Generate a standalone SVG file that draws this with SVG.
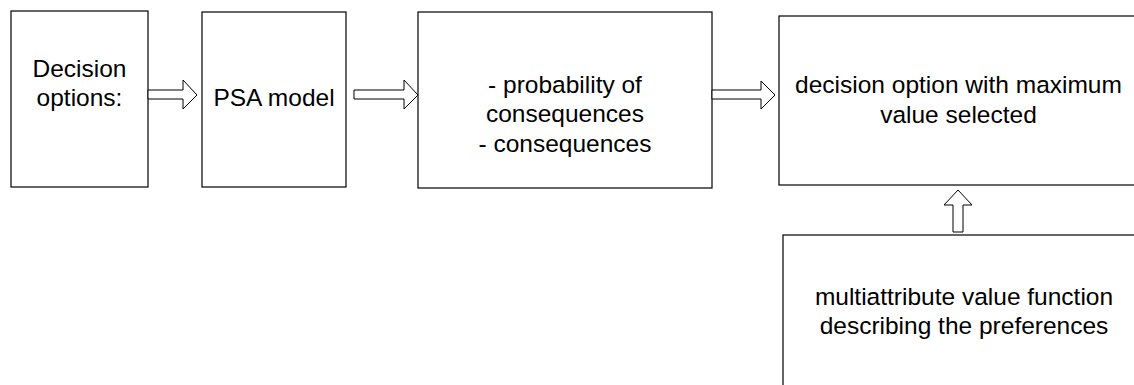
<svg xmlns="http://www.w3.org/2000/svg" width="1134" height="385" viewBox="0 0 1134 385">
  <style>
    .box { fill: #ffffff; stroke: #000000; stroke-width: 1.2; }
    .arrow { fill: #ffffff; stroke: #000000; stroke-width: 1; stroke-linejoin: miter; }
    .label { font-family: "Liberation Sans", Arial, sans-serif; font-size: 24.5px; fill: #000000; text-anchor: middle; }
  </style>
  <rect width="1134" height="385" fill="#ffffff"/>

  <g id="decision-options">
    <rect class="box" x="11" y="11" width="137" height="176"/>
    <text class="label" x="79.5" y="77">Decision</text>
    <text class="label" x="79.5" y="106">options:</text>
  </g>

  <g id="psa-model">
    <rect class="box" x="202" y="12" width="144" height="175"/>
    <text class="label" x="274" y="106">PSA model</text>
  </g>

  <g id="consequences">
    <rect class="box" x="418" y="12" width="294" height="176"/>
    <text class="label" x="565" y="93">- probability of</text>
    <text class="label" x="565" y="122">consequences</text>
    <text class="label" x="565" y="152">- consequences</text>
  </g>

  <g id="selected-option">
    <rect class="box" x="779" y="16" width="370" height="169"/>
    <text class="label" x="958.5" y="93">decision option with maximum</text>
    <text class="label" x="958.5" y="123">value selected</text>
  </g>

  <g id="value-function">
    <rect class="box" x="783" y="235" width="370" height="170"/>
    <text class="label" x="964" y="305">multiattribute value function</text>
    <text class="label" x="964" y="334">describing the preferences</text>
  </g>

  <g id="connectors">
    <!-- hollow block arrows between the stages -->
    <polygon class="arrow" points="148,90 183,90 183,80 197,95 183,109 183,99 148,99"/>
    <polygon class="arrow" points="354,90 404,90 404,80 418,95 404,109 404,99 354,99"/>
    <polygon class="arrow" points="712,90 761,90 761,81 775,95 761,109 761,99 712,99"/>
    <polygon class="arrow" points="953,232 953,205 944,205 958,190 972,205 963,205 963,232"/>
  </g>
</svg>
